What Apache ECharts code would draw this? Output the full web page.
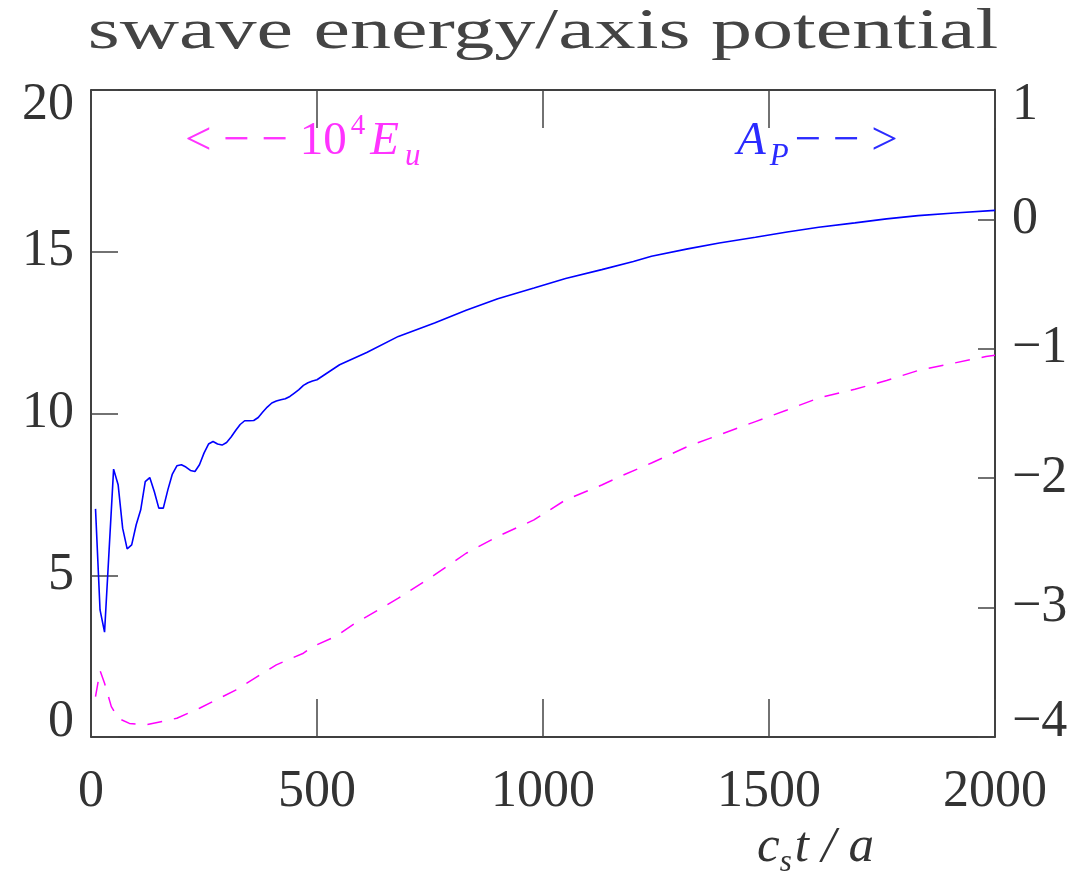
<!DOCTYPE html>
<html>
<head>
<meta charset="utf-8">
<script src="https://cdn.jsdelivr.net/npm/echarts@6/dist/echarts.min.js"></script>
<style>
html,body{margin:0;padding:0;background:#fff;}
#chart{width:1079px;height:872px;}
</style>
</head>
<body>
<div id="chart"></div>
<script>
// ---- data ----
const titleText = 'swave energy/axis potential';
const xTicks = [0, 500, 1000, 1500, 2000];
const leftTicks = [0, 5, 10, 15, 20];
const rightTicks = [-4, -3, -2, -1, 0, 1];

// 10^4 E_u (left axis), dashed magenta
const tE = [10, 20, 30, 45, 60, 85, 120, 190, 240, 320, 410, 470, 490, 540, 590, 610, 680, 760, 830, 900, 980, 1050, 1130, 1170, 1240, 1320, 1390, 1470, 1540, 1610, 1690, 1760, 1830, 1910, 1980, 2000];
const vE = [1.25, 2.05, 1.66, 0.94, 0.58, 0.42, 0.37, 0.58, 0.89, 1.45, 2.23, 2.59, 2.79, 3.10, 3.57, 3.72, 4.29, 5.01, 5.68, 6.20, 6.71, 7.33, 7.79, 8.05, 8.47, 8.98, 9.34, 9.75, 10.11, 10.48, 10.75, 11.02, 11.33, 11.56, 11.76, 11.80];

// A_P (right axis), solid blue
const tA = [10, 20, 30, 40, 50, 60, 70, 80, 90, 100, 110, 120, 130, 140, 150, 160, 170, 180, 190, 200,
  210, 220, 230, 240, 250, 260, 270, 280, 290, 300, 310, 320, 330, 340, 350, 360, 370, 380, 390, 400,
  410, 420, 430, 440, 450, 460, 470, 480, 490, 500, 550, 610, 680, 760, 830, 900, 980, 1050, 1130, 1200,
  1240, 1320, 1390, 1470, 1540, 1610, 1690, 1760, 1830, 1910, 2000];
const vA = [-2.237, -3.018, -3.19, -2.56, -1.93, -2.05, -2.386, -2.546, -2.515, -2.36, -2.244, -2.026, -1.995, -2.103, -2.231, -2.231, -2.090, -1.968, -1.904, -1.896,
  -1.914, -1.940, -1.948, -1.896, -1.806, -1.736, -1.716, -1.736, -1.744, -1.724, -1.682, -1.631, -1.585, -1.556, -1.556, -1.554, -1.531, -1.489, -1.450, -1.419,
  -1.404, -1.394, -1.386, -1.368, -1.342, -1.316, -1.283, -1.262, -1.249, -1.239, -1.123, -1.028, -0.904, -0.800, -0.703, -0.613, -0.530, -0.456, -0.388, -0.326,
  -0.285, -0.228, -0.182, -0.138, -0.097, -0.061, -0.027, 0.004, 0.029, 0.050, 0.070];

// ---- chart ----
const FONT = '"Liberation Serif", "Times New Roman", serif';
const TXT = '#333';
const MAG = '#ff00ff';
const MAG_TXT = '#ff33ff';
const BLU = '#0000ff';
const BLU_TXT = '#2b2bff';

const zip = (a, b) => a.map((t, i) => [t, b[i]]);

const chart = echarts.init(document.getElementById('chart'), null, {renderer: 'canvas'});

const axisLine = {show: true, onZero: false, lineStyle: {color: '#000', width: 1.5}};
const tickStyle = {color: '#444', width: 1.5};
const labelBase = {color: TXT, fontFamily: FONT, fontSize: 52, lineHeight: 36};

const option = {
  animation: false,
  backgroundColor: '#fff',
  grid: {left: 91, top: 90, width: 904, height: 647, containLabel: false, outerBoundsMode: 'none'},
  xAxis: [
    {
      type: 'value', min: xTicks[0], max: xTicks[xTicks.length - 1], interval: 500, position: 'bottom',
      axisLine: axisLine,
      axisTick: {show: true, inside: true, length: 38, lineStyle: tickStyle},
      axisLabel: Object.assign({margin: 37, showMinLabel: true, showMaxLabel: true,
        formatter: v => String(v)}, labelBase),
      splitLine: {show: false}
    },
    {
      type: 'value', min: xTicks[0], max: xTicks[xTicks.length - 1], interval: 500, position: 'top',
      axisLine: axisLine,
      axisTick: {show: true, inside: true, length: 38, lineStyle: tickStyle},
      axisLabel: {show: false},
      splitLine: {show: false}
    }
  ],
  yAxis: [
    {
      type: 'value', min: leftTicks[0], max: leftTicks[leftTicks.length - 1], interval: 5, position: 'left',
      axisLine: axisLine,
      axisTick: {show: true, inside: true, length: 27, lineStyle: tickStyle},
      axisLabel: Object.assign({margin: 17, showMinLabel: true, showMaxLabel: true,
        verticalAlignMinLabel: 'bottom', verticalAlignMaxLabel: 'top',
        formatter: v => String(v)}, labelBase, {lineHeight: 30}),
      splitLine: {show: false}
    },
    {
      type: 'value', min: rightTicks[0], max: rightTicks[rightTicks.length - 1], interval: 1, position: 'right',
      axisLine: axisLine,
      axisTick: {show: true, inside: true, length: 17, lineStyle: tickStyle},
      axisLabel: Object.assign({margin: 17, showMinLabel: true, showMaxLabel: true,
        verticalAlignMinLabel: 'bottom', verticalAlignMaxLabel: 'top',
        formatter: v => (v < 0 ? '\u2212' + Math.abs(v) : String(v))}, labelBase, {lineHeight: 30}),
      splitLine: {show: false}
    }
  ],
  series: [
    {
      name: '10^4 E_u', type: 'line', xAxisIndex: 0, yAxisIndex: 0,
      data: zip(tE, vE), showSymbol: false, symbol: 'none', smooth: false, clip: true,
      lineStyle: {color: MAG, width: 1.5, type: [15, 12]}
    },
    {
      name: 'A_P', type: 'line', xAxisIndex: 0, yAxisIndex: 1,
      data: zip(tA, vA), showSymbol: false, symbol: 'none', smooth: false, clip: true,
      lineStyle: {color: BLU, width: 1.6}
    }
  ],
  graphic: [
    {
      type: 'text', x: 543, y: 33, scaleX: 1.466, silent: true,
      style: {text: titleText, x: 0, y: 0, fontFamily: FONT, fontSize: 56, fill: '#444',
        textAlign: 'center', textVerticalAlign: 'middle'}
    },
    {
      type: 'text', x: 185, y: 142, silent: true,
      style: {
        text: '{m|< \u2212 \u2212 10}{sup|4}{it|E}{sub|u}',
        x: 0, y: 0, textAlign: 'left', textVerticalAlign: 'middle', fill: MAG_TXT,
        rich: {
          m: {fontFamily: FONT, fontSize: 47, lineHeight: 60, fill: MAG_TXT, color: MAG_TXT},
          sup: {fontFamily: FONT, fontSize: 29, lineHeight: 30, verticalAlign: 'top', padding: [0, 5, 0, 4], fill: MAG_TXT, color: MAG_TXT},
          it: {fontFamily: FONT, fontSize: 47, fontStyle: 'italic', lineHeight: 60, fill: MAG_TXT, color: MAG_TXT},
          sub: {fontFamily: FONT, fontSize: 31, fontStyle: 'italic', lineHeight: 24, verticalAlign: 'bottom', padding: [0, 0, 0, 6], fill: MAG_TXT, color: MAG_TXT}
        }
      }
    },
    {
      type: 'text', x: 737, y: 142, silent: true,
      style: {
        text: '{it|A}{sub|P}{m|\u2212 \u2212 >}',
        x: 0, y: 0, textAlign: 'left', textVerticalAlign: 'middle', fill: BLU_TXT,
        rich: {
          m: {fontFamily: FONT, fontSize: 47, lineHeight: 60, fill: BLU_TXT, color: BLU_TXT},
          it: {fontFamily: FONT, fontSize: 47, fontStyle: 'italic', lineHeight: 60, fill: BLU_TXT, color: BLU_TXT},
          sub: {fontFamily: FONT, fontSize: 31, fontStyle: 'italic', lineHeight: 24, verticalAlign: 'bottom', padding: [0, 6, 0, 4], fill: BLU_TXT, color: BLU_TXT}
        }
      }
    },
    {
      type: 'text', x: 757, y: 848, silent: true,
      style: {
        text: '{it|c}{sub|s}{it|t / a}',
        x: 0, y: 0, textAlign: 'left', textVerticalAlign: 'middle', fill: TXT,
        rich: {
          it: {fontFamily: FONT, fontSize: 51, fontStyle: 'italic', lineHeight: 60, fill: TXT, color: TXT},
          sub: {fontFamily: FONT, fontSize: 31, fontStyle: 'italic', lineHeight: 24, verticalAlign: 'bottom', padding: [0, 3, 0, 0], fill: TXT, color: TXT}
        }
      }
    }
  ]
};
chart.setOption(option);
</script>
</body>
</html>
